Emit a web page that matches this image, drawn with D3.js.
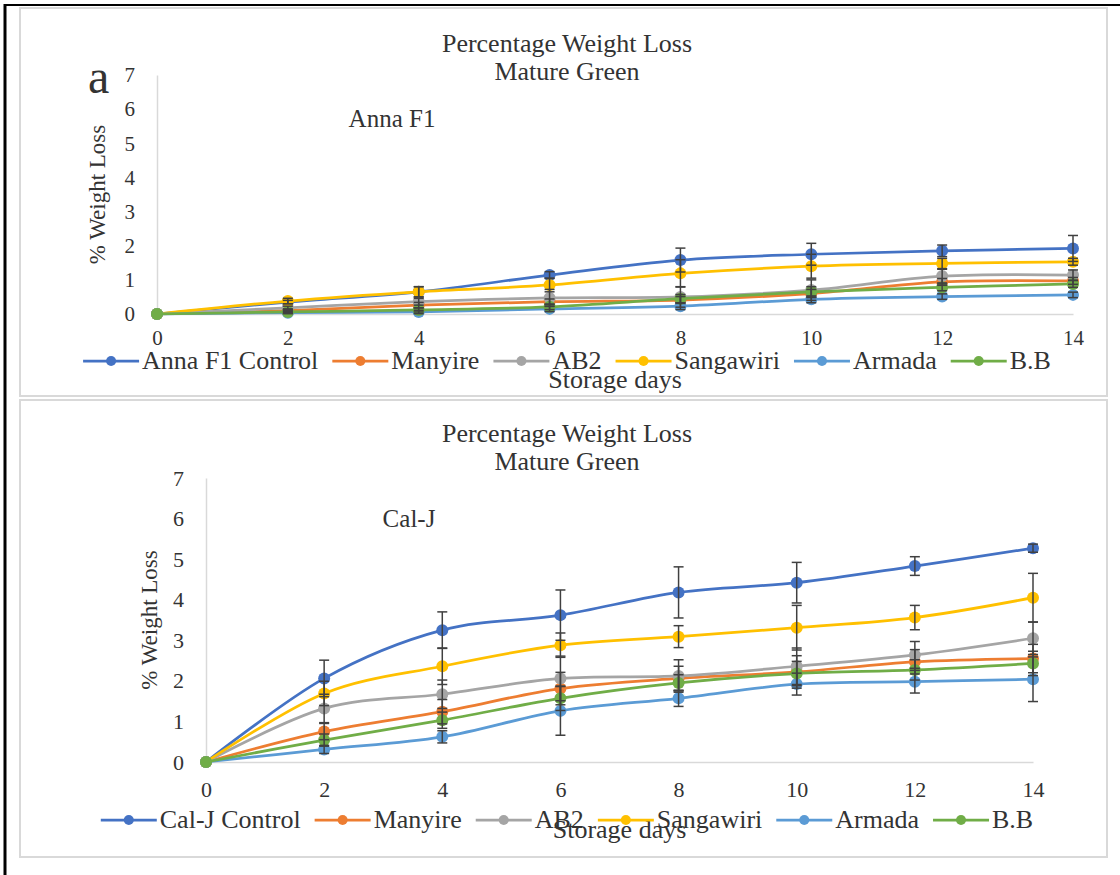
<!DOCTYPE html>
<html>
<head>
<meta charset="utf-8">
<script src="https://cdn.jsdelivr.net/npm/d3@7"></script>
<style>
  body { margin: 0; background: #fff; }
  svg text { font-family: "Liberation Serif", "Times New Roman", serif; fill: #333; }
</style>
</head>
<body>
<script>
const days = [0, 2, 4, 6, 8, 10, 12, 14];
const yTicks = [0, 1, 2, 3, 4, 5, 6, 7];
const colors = ['#4472C4', '#ED7D31', '#A5A5A5', '#FFC000', '#5B9BD5', '#70AD47'];
const serif = '"Liberation Serif", "Times New Roman", serif';

// panel a : Anna F1
const annaNames = ['Anna F1 Control', 'Manyire', 'AB2', 'Sangawiri', 'Armada', 'B.B'];
const annaControl = [0, 0.35, 0.65, 1.14, 1.58, 1.75, 1.85, 1.92];
const annaManyire = [0, 0.10, 0.26, 0.36, 0.41, 0.60, 0.94, 0.97];
const annaAB2 = [0, 0.18, 0.36, 0.47, 0.50, 0.70, 1.11, 1.14];
const annaSangawiri = [0, 0.38, 0.65, 0.85, 1.19, 1.40, 1.48, 1.53];
const annaArmada = [0, 0.04, 0.06, 0.15, 0.23, 0.43, 0.51, 0.56];
const annaBB = [0, 0.06, 0.12, 0.21, 0.45, 0.65, 0.78, 0.88];
const annaErr = [
  [0, 0.05, 0.15, 0.10, 0.35, 0.32, 0.17, 0.38],
  [0, 0.05, 0.08, 0.08, 0.10, 0.12, 0.10, 0.10],
  [0, 0.05, 0.10, 0.25, 0.30, 0.30, 0.20, 0.15],
  [0, 0.08, 0.15, 0.20, 0.40, 0.35, 0.15, 0.10],
  [0, 0.03, 0.05, 0.08, 0.10, 0.10, 0.08, 0.08],
  [0, 0.04, 0.06, 0.08, 0.12, 0.15, 0.10, 0.10]
];

// panel b : Cal-J
const calNames = ['Cal-J Control', 'Manyire', 'AB2', 'Sangawiri', 'Armada', 'B.B'];
const calControl = [0, 2.06, 3.25, 3.62, 4.18, 4.42, 4.83, 5.27];
const calManyire = [0, 0.75, 1.24, 1.81, 2.06, 2.22, 2.47, 2.55];
const calAB2 = [0, 1.32, 1.67, 2.06, 2.12, 2.36, 2.64, 3.05];
const calSangawiri = [0, 1.69, 2.36, 2.88, 3.09, 3.31, 3.56, 4.05];
const calArmada = [0, 0.31, 0.62, 1.26, 1.57, 1.92, 1.98, 2.04];
const calBB = [0, 0.54, 1.03, 1.57, 1.95, 2.18, 2.27, 2.43];
const calErr = [
  [0, 0.45, 0.45, 0.62, 0.63, 0.50, 0.23, 0.10],
  [0, 0.20, 0.30, 0.40, 0.30, 0.40, 0.30, 0.35],
  [0, 0.35, 0.35, 0.55, 0.40, 0.45, 0.33, 0.40],
  [0, 0.30, 0.45, 0.30, 0.27, 0.55, 0.30, 0.60],
  [0, 0.10, 0.15, 0.60, 0.20, 0.27, 0.28, 0.55],
  [0, 0.15, 0.20, 0.30, 0.20, 0.30, 0.25, 0.30]
];

const svg = d3.select('body').append('svg')
  .attr('width', 1120)
  .attr('height', 875)
  .attr('font-family', serif);

// outer frame (left + top)
svg.append('line').attr('x1', 5).attr('x2', 5).attr('y1', 4).attr('y2', 875)
  .attr('stroke', '#000').attr('stroke-width', 3);
svg.append('line').attr('x1', 4).attr('x2', 1120).attr('y1', 5).attr('y2', 5)
  .attr('stroke', '#000').attr('stroke-width', 2);

function drawPanel(p) {
  const g = svg.append('g');

  g.append('rect')
    .attr('x', p.box[0]).attr('y', p.box[1])
    .attr('width', p.box[2]).attr('height', p.box[3])
    .attr('fill', '#fff').attr('stroke', '#d9d9d9').attr('stroke-width', 2);

  const x = d3.scaleLinear().domain([0, 14]).range([p.x0, p.x1]);
  const y = d3.scaleLinear().domain([0, 7]).range([p.y0, p.y7]);

  // titles
  g.append('text').attr('x', 567).attr('y', p.titleY)
    .attr('text-anchor', 'middle').style('font-size', '26px')
    .text('Percentage Weight Loss');
  g.append('text').attr('x', 567).attr('y', p.titleY + 28)
    .attr('text-anchor', 'middle').style('font-size', '26px')
    .text('Mature Green');
  g.append('text').attr('x', p.label[0]).attr('y', p.label[1])
    .attr('text-anchor', 'middle').style('font-size', '25px')
    .text(p.labelText);

  // axes
  const xAxis = g.append('g')
    .attr('transform', `translate(0,${p.y0})`)
    .call(d3.axisBottom(x).tickValues(days).tickFormat(d3.format('d')).tickSize(0).tickSizeOuter(0));
  xAxis.attr('font-family', serif);
  xAxis.select('.domain').attr('stroke', '#d9d9d9').attr('stroke-width', 1.5);
  xAxis.selectAll('text')
    .attr('y', p.xTickY - p.y0).attr('dy', null)
    .style('font-size', p.tickSize + 'px')
    .attr('fill', '#333');

  const yAxis = g.append('g')
    .attr('transform', `translate(${p.x0},0)`)
    .call(d3.axisLeft(y).tickValues(yTicks).tickFormat(d3.format('d')).tickSize(0).tickSizeOuter(0).tickPadding(22));
  yAxis.attr('font-family', serif);
  yAxis.select('.domain').attr('stroke', '#d9d9d9').attr('stroke-width', 1.5);
  yAxis.selectAll('text')
    .style('font-size', p.tickSize + 'px')
    .attr('fill', '#333');

  g.append('text')
    .attr('transform', `translate(${p.yTitleX},${(p.y0 + p.y7) / 2}) rotate(-90)`)
    .attr('text-anchor', 'middle').style('font-size', '23px')
    .text('% Weight Loss');

  g.append('text').attr('x', (p.x0 + p.x1) / 2).attr('y', p.xTitleY)
    .attr('text-anchor', 'middle').style('font-size', '26px')
    .text('Storage days');

  // series
  const line = d3.line()
    .x((d, i) => x(days[i]))
    .y(d => y(d))
    .curve(d3.curveCardinal.tension(0));

  p.series.forEach((vals, s) => {
    g.append('path').datum(vals)
      .attr('d', line)
      .attr('fill', 'none')
      .attr('stroke', colors[s])
      .attr('stroke-width', 2.75);
    g.append('g').selectAll('circle')
      .data(vals)
      .join('circle')
      .attr('cx', (d, i) => x(days[i]))
      .attr('cy', d => y(d))
      .attr('r', 6)
      .attr('fill', colors[s]);
  });

  // error bars
  p.series.forEach((vals, s) => {
    const eb = g.append('g').attr('stroke', '#404040').attr('stroke-width', 1.5);
    vals.forEach((v, i) => {
      const e = p.err[s][i];
      if (!e) return;
      const cx = x(days[i]);
      eb.append('line').attr('x1', cx).attr('x2', cx)
        .attr('y1', y(v - e)).attr('y2', y(v + e));
      [v - e, v + e].forEach(t => {
        eb.append('line').attr('x1', cx - 5).attr('x2', cx + 5)
          .attr('y1', y(t)).attr('y2', y(t));
      });
    });
  });

  // legend
  const leg = g.append('g');
  const items = p.names.map((name, i) => {
    const t = leg.append('text').style('font-size', '26px').text(name);
    return { name, t, w: t.node().getComputedTextLength(), i };
  });
  const lineLen = 56, gapText = 3, gapItem = 14;
  const total = d3.sum(items, d => lineLen + gapText + d.w) + gapItem * (items.length - 1);
  let cx = 567 - total / 2;
  items.forEach(d => {
    const ly = p.legendY - 8;
    leg.append('line').attr('x1', cx).attr('x2', cx + lineLen)
      .attr('y1', ly).attr('y2', ly)
      .attr('stroke', colors[d.i]).attr('stroke-width', 2.75);
    leg.append('circle').attr('cx', cx + lineLen / 2).attr('cy', ly).attr('r', 5)
      .attr('fill', colors[d.i]);
    d.t.attr('x', cx + lineLen + gapText).attr('y', p.legendY);
    cx += lineLen + gapText + d.w + gapItem;
  });

  return g;
}

drawPanel({
  box: [20, 8, 1087, 388],
  x0: 157, x1: 1073, y0: 314, y7: 75,
  titleY: 52, label: [392, 127], labelText: 'Anna F1',
  xTickY: 345, tickSize: 21, yTitleX: 105, xTitleY: 388, legendY: 369,
  names: annaNames,
  series: [annaControl, annaManyire, annaAB2, annaSangawiri, annaArmada, annaBB],
  err: annaErr
});

drawPanel({
  box: [20, 400, 1087, 457],
  x0: 206, x1: 1033, y0: 762, y7: 478,
  titleY: 442, label: [409, 527], labelText: 'Cal-J',
  xTickY: 797, tickSize: 22, yTitleX: 157, xTitleY: 838, legendY: 828,
  names: calNames,
  series: [calControl, calManyire, calAB2, calSangawiri, calArmada, calBB],
  err: calErr
});

// panel letter
svg.append('text').attr('x', 88).attr('y', 93)
  .style('font-size', '48px').attr('fill', '#111').text('a');
</script>
</body>
</html>
